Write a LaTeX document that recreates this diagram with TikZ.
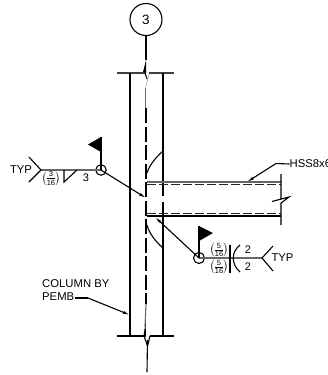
\documentclass[tikz,border=0pt]{standalone}
\usepackage{amsmath}
\usepackage{fontspec}
\setmainfont{Liberation Sans}
\usetikzlibrary{arrows.meta}
\newcommand\wfrac[2]{\scalebox{1.15}{$\genfrac{(}{)}{0.4pt}{1}{\hbox{\fontsize{6.5}{7}\selectfont #1}}{\hbox{\fontsize{6.5}{7}\selectfont #2}}$}}
\tikzset{
  ln/.style={line width=1.1pt,black},
  gry/.style={line width=1.1pt,black!60},
  lead/.style={line width=1.1pt,black,-{Latex[length=7pt,width=3pt]}},
  center dash/.style={line width=2.5pt,black,dash pattern=on 15pt off 3.5pt},
  beam dash/.style={line width=1pt,black!85,dash pattern=on 9pt off 3pt},
  lbl/.style={inner sep=0pt,font=\fontsize{11.3}{13}\selectfont},
  num/.style={inner sep=0pt,font=\fontsize{11}{12}\selectfont},
  fr/.style={inner sep=0pt},
  mark circ/.style={circle,draw,line width=1.1pt,inner sep=0pt,minimum size=#1},
  flagtri/.style={fill=black,draw=none}
}
\begin{document}
\begin{tikzpicture}[x=1pt,y=-1pt]
\useasboundingbox (0,0) rectangle (327,375);
\begin{scope}
\clip (0,0) rectangle (327,375);
% column grid
\node[circle,draw,line width=1.1pt,minimum size=32pt,inner sep=0pt,font=\fontsize{13.5}{14}\selectfont] (grid) at (146,19.5) {3};
\coordinate (ctop) at (146,60);
\coordinate (cbot) at (147,372);
\draw[ln] (grid.south) -- (ctop);
% column caps and walls
\coordinate (capTL) at (117,73); \coordinate (capTR) at (174,73);
\coordinate (capBL) at (117,336); \coordinate (capBR) at (174,336);
\draw[gry,black!75] (capTL) -- (145,73) (149,73) -- (capTR);
\draw[ln] (capBL) -- (144,336) (150,336) -- (capBR);
\draw[ln] (130,73) -- (130,336);
\draw[ln] (163,73) -- (163,196) (163,202) -- (163,336);
% break symbols
\fill (ctop) -- (143,72) -- (146,73) -- cycle;
\fill (149.5,73) -- (145,90) -- (147.5,80) -- cycle;
\draw[ln] (145,73) -- (147,79);
\draw[gry] (145.5,88) -- (145.5,108);
\draw[gry] (146,304) -- (145,326);
\fill (145.5,322) -- (143.5,336) -- (146,337) -- cycle;
\draw[ln] (144,336) -- (147.5,346) -- (150,336);
\draw[ln] (147.5,340) -- (cbot);
% centre dashed line
\draw[center dash] (146,108) -- (146,304);
% stiffener arcs
\draw[ln] (163,151) .. controls (155,158) and (149,166) .. (147,173);
\draw[ln] (147,225) .. controls (149,233) and (155,241) .. (163,248);
% beam
\coordinate (bTL) at (147,182); \coordinate (bBL) at (147,216);
\coordinate (bTR) at (281,182); \coordinate (bBR) at (281,216);
\draw[gry] (bTL) -- (bTR);
\draw[beam dash] (147,184.5) -- (281,184.5);
\draw[beam dash] (147,213) -- (281,213);
\draw[ln] (bBL) -- (bBR);
\draw[ln] (281,174) -- (281,199) -- (272,201.5) -- (289,197) -- (281,203) -- (281,225);
% HSS label
\node[lbl,anchor=west] (hss) at (289.5,164) {HSS8x6};
\coordinate (hssK) at (276,163.5);
\coordinate (hssE) at (247,182);
\draw[ln] (hss.west) -- (hssK);
\draw[lead] (hssK) -- (hssE);
% left weld symbol
\node[mark circ=10.5pt] (wl) at (101,170) {};
\coordinate (lT) at (41,170);
\coordinate (lA) at (146,198);
\draw[gry] (lT) -- (wl.center);
\draw[ln] (29,157) -- (lT) -- (29,182);
\draw[lead] (wl.center) -- (lA);
\draw[ln] (wl.center) -- (101,137);
\fill[flagtri] (101,137) -- (88,144.5) -- (101,152) -- cycle;
\draw[ln] (64,170) -- (64,182) -- (77,170);
\node[lbl] (typl) at (21,170) {TYP};
\node[fr] (fl) at (51,178.5) {\wfrac{3}{16}};
\node[num] (nl) at (86,178) {3};
% right weld symbol
\node[mark circ=11pt] (wr) at (199,258) {};
\coordinate (rT) at (262,258);
\coordinate (rA) at (155,217);
\draw[gry] (wr.center) -- (rT);
\draw[ln] (273,246) -- (rT) -- (273,271);
\draw[lead] (wr.center) -- (rA);
\draw[ln] (wr.center) -- (199,226);
\fill[flagtri] (199,226) -- (213,233) -- (199,241) -- cycle;
\draw[ln] (230,245) -- (230,273);
\draw[ln] (240,245) .. controls (231,252) and (231,264) .. (240,272);
\node[lbl] (typr) at (282.5,258) {TYP};
\node[fr] (f1) at (219,250) {\wfrac{5}{16}};
\node[fr] (f2) at (219,267) {\wfrac{5}{16}};
\node[num] (n1) at (248,250) {2};
\node[num] (n2) at (248,267) {2};
% column label
\node[lbl,anchor=north west,align=left] (col) at (42,279.5) {COLUMN BY\\PEMB};
\coordinate (colK) at (88,298);
\coordinate (colE) at (130,315);
\draw[ln] (75,298) -- (colK);
\draw[lead] (colK) -- (colE);
\end{scope}
\end{tikzpicture}
\end{document}
